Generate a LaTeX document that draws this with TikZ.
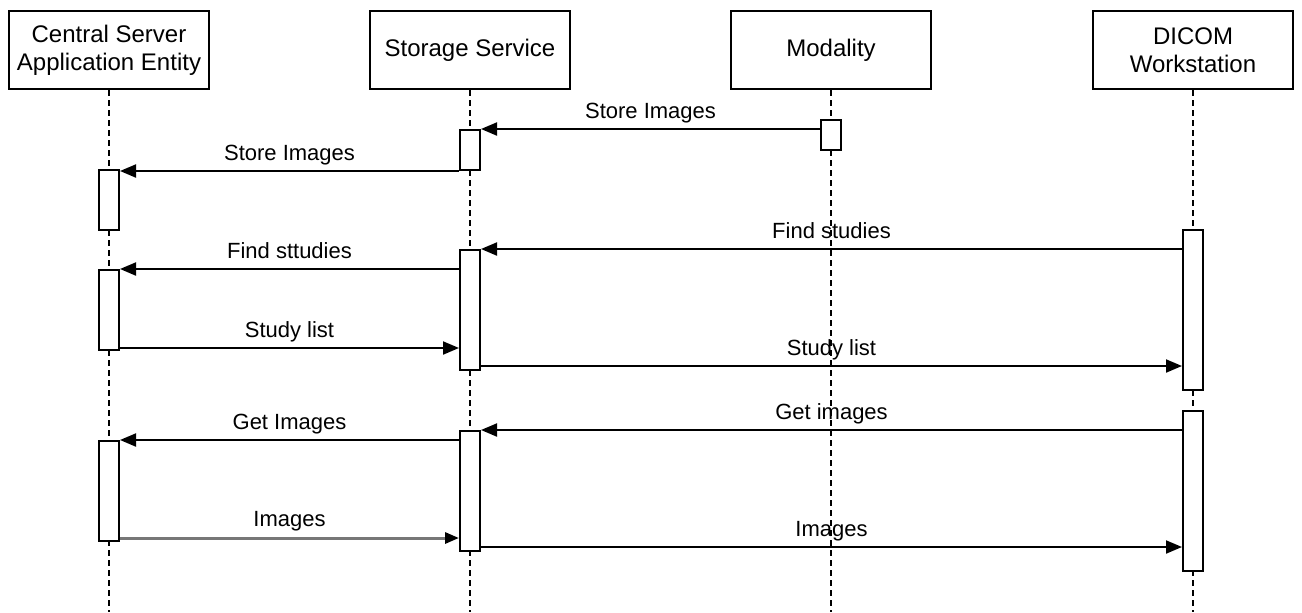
\documentclass[tikz,border=0pt]{standalone}
\usepackage{fontspec}
\setmainfont{Liberation Sans}
\usetikzlibrary{arrows.meta}
\definecolor{msggray}{HTML}{777777}

\begin{document}
\begin{tikzpicture}[x=0.5pt,y=-0.5pt,
  actor/.style={draw,line width=1pt,minimum width=100pt,minimum height=39pt,
    align=center,inner sep=0pt,font=\fontsize{12}{14}\selectfont},
  life/.style={line width=0.8pt,dash pattern=on 3pt off 2pt},
  act/.style={draw,fill=white,line width=1pt,minimum width=10pt,inner sep=0pt},
  msg/.style={line width=1pt,-{Triangle[length=8pt,width=6.5pt]}},
  lbl/.style={above=2.5pt,inner sep=0pt,text height=8pt,text depth=2.5pt,
    font=\fontsize{11}{13}\selectfont}]
  \useasboundingbox (0,0) rectangle (1302,612);

  % Participants
  \node[actor] (cs) at (109,50) {Central Server\\Application Entity};
  \node[actor] (ss) at (470,50) {Storage Service};
  \node[actor] (mo) at (831,50) {Modality};
  \node[actor] (dw) at (1193,50) {DICOM\\Workstation};

  % Lifelines
  \coordinate (bottom) at (0,612);
  \foreach \p in {cs,ss,mo,dw}
    \draw[life] (\p.south) -- (\p.south |- bottom);

  % Activations
  \node[act,minimum height=15pt] (mo1) at (831,135) {};
  \node[act,minimum height=20pt] (sa1) at (470,150) {};
  \node[act,minimum height=30pt] (cs1) at (109,200) {};
  \node[act,minimum height=80pt] (dw1) at (1193,310) {};
  \node[act,minimum height=60pt] (sa2) at (470,310) {};
  \node[act,minimum height=40pt] (cs2) at (109,310) {};
  \node[act,minimum height=80pt] (dw2) at (1193,491) {};
  \node[act,minimum height=60pt] (sa3) at (470,491) {};
  \node[act,minimum height=50pt] (cs3) at (109,491) {};

  % Store
  \draw[msg] (mo1.west |- sa1.north) -- node[lbl] {Store Images} (sa1.north east);
  \draw[msg] (sa1.south west) -- node[lbl] {Store Images} (cs1.east |- sa1.south west);

  % Query
  \draw[msg] (dw1.west |- sa2.north) -- node[lbl] {Find studies} (sa2.north east);
  \draw[msg] (sa2.west |- cs2.north) -- node[lbl] {Find sttudies} (cs2.north east);
  \coordinate (r1) at ([yshift=1.5pt]cs2.south east);
  \draw[msg] (r1) -- node[lbl] {Study list} (sa2.west |- r1);
  \coordinate (r2) at ([yshift=2.5pt]sa2.south east);
  \draw[msg] (r2) -- node[lbl] {Study list} (dw1.west |- r2);

  % Retrieve
  \draw[msg] (dw2.west |- sa3.north) -- node[lbl] {Get images} (sa3.north east);
  \draw[msg] (sa3.west |- cs3.north) -- node[lbl] {Get Images} (cs3.north east);
  \coordinate (r3) at ([yshift=2pt]cs3.south east);
  \draw[msg,draw=msggray,line width=1.5pt,-{Triangle[length=7pt,width=5.5pt,color=black]}]
    (r3) -- node[lbl] {Images} (sa3.west |- r3);
  \coordinate (r4) at ([yshift=2.5pt]sa3.south east);
  \draw[msg] (r4) -- node[lbl] {Images} (dw2.west |- r4);
\end{tikzpicture}
\end{document}
